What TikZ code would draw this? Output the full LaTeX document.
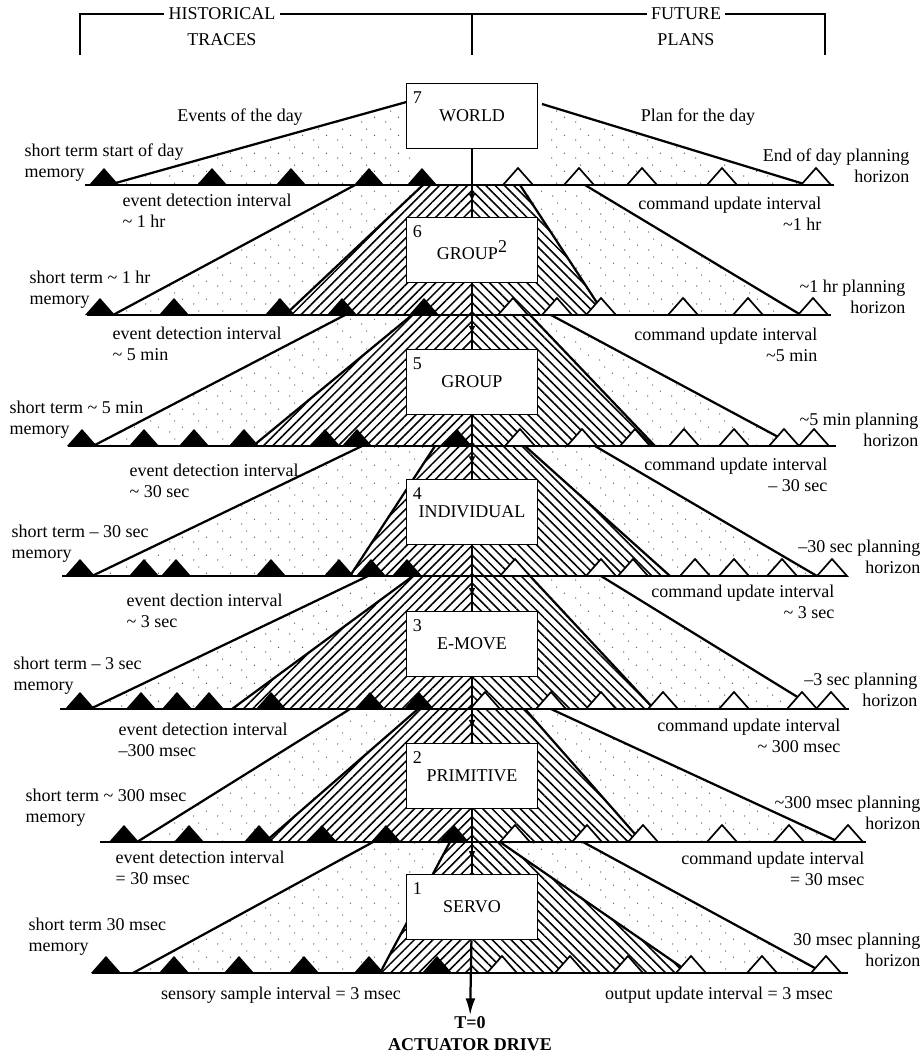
\documentclass[tikz,border=0pt]{standalone}
\usepackage{fontspec}
\setmainfont{Liberation Serif}
\usepackage{tikz}
\usetikzlibrary{positioning, arrows.meta, patterns, patterns.meta, decorations.markings}

% sparse dots for the planning fans
\pgfdeclarepatternformonly{speckle}{\pgfqpoint{0pt}{0pt}}{\pgfqpoint{17pt}{13pt}}{\pgfqpoint{17pt}{13pt}}{%
  \pgfpathcircle{\pgfqpoint{2pt}{1.5pt}}{0.45pt}%
  \pgfpathcircle{\pgfqpoint{11pt}{5pt}}{0.45pt}%
  \pgfpathcircle{\pgfqpoint{5.5pt}{9.5pt}}{0.45pt}%
  \pgfusepath{fill}}
\newcommand{\apx}{\textasciitilde}

\begin{document}
\begin{tikzpicture}[x=0.025cm, y=-0.025cm,
    every node/.style={font=\fontsize{12.8}{15}\selectfont, inner sep=1pt},
    tier/.style={draw, fill=white, line width=1.3pt, minimum width=3.275cm, minimum height=1.625cm, inner sep=0pt},
    heavy/.style={line width=1.6pt},
    baseln/.style={line width=2pt},
    speckled/.style={pattern=speckle, pattern color=black!80},
    hatchleft/.style={pattern={Lines[angle=45, distance=4.7pt, line width=1.1pt]}},
    hatchright/.style={pattern={Lines[angle=-45, distance=4.7pt, line width=1.1pt]}},
    midarrow/.style={decoration={markings, mark=at position 0.78 with {\arrow{Latex[length=6pt,width=5pt]}}}, postaction=decorate},
    past/.style={fill=black},
    plan/.style={fill=white, draw=black, line width=1.2pt},
  ]
    \useasboundingbox (0,0) rectangle (924,1055);

    % Header bracket
    \draw[heavy] (80,55) -- (80,14) -- (825,14) -- (825,55);
    \draw[heavy] (472,14) -- (472,55);
    \node[fill=white, inner xsep=3pt] (hist) at (222,14) {HISTORICAL};
    \node (traces) at (222,40) {TRACES};
    \node[fill=white, inner xsep=3pt] (future) at (686,14) {FUTURE};
    \node (plans) at (686,40) {PLANS};

    % Top fan under WORLD
    \fill[speckled] (410,101) -- (410,185) -- (112,185) -- cycle;
    \fill[speckled] (542,104) -- (542,185) -- (804,185) -- cycle;
    \draw[heavy] (410,101) -- (112,184);
    \draw[heavy] (542,104) -- (804,184);

    % Fans between levels
    \foreach \yt/\yb/\olt/\olb/\ort/\orb/\ilt/\ilb/\irt/\irb in {
        185/315/355/113/585/801/423/285/520/605,
        315/446/345/93/551/795/412/253/530/655,
        446/576/362/92/595/817/435/350/525/670,
        576/709/368/90/601/817/413/232/530/654,
        709/842/350/137/551/839/418/265/525/642,
        842/973/373/133/583/824/450/380/500/690}{
      \fill[speckled] (\olt,\yt) -- (\ilt,\yt) -- (\ilb,\yb) -- (\olb,\yb) -- cycle;
      \fill[speckled] (\irt,\yt) -- (\ort,\yt) -- (\orb,\yb) -- (\irb,\yb) -- cycle;
      \fill[hatchleft] (\ilt,\yt) -- (472,\yt) -- (472,\yb) -- (\ilb,\yb) -- cycle;
      \fill[hatchright] (472,\yt) -- (\irt,\yt) -- (\irb,\yb) -- (472,\yb) -- cycle;
      \draw[heavy] (\olt,\yt) -- (\olb,\yb) (\ort,\yt) -- (\orb,\yb)
                   (\ilt,\yt) -- (\ilb,\yb) (\irt,\yt) -- (\irb,\yb);
    }

    % Time lines with traces and plans
    \foreach \y/\a/\b in {185/85/834, 315/87/831, 446/68/836, 576/62/846, 709/60/849, 842/100/866, 973/92/848}
      \draw[baseln] (\a,\y) -- (\b,\y);
    \foreach \y/\pts/\pls in {
        185/{104,212,291,369,422}/{518,579,642,722,816},
        315/{100,174,280,342,424}/{513,557,601,683,748,813},
        446/{82,144,194,244,325,357,457}/{520,582,635,684,734,784,814},
        576/{80,144,176,271,339,371,407}/{515,601,633,695,734,782,832},
        709/{80,141,177,209,271,370,419}/{485,551,601,663,734,802,831},
        842/{124,189,259,322,386,454}/{515,587,643,722,789,848},
        973/{106,174,239,304,369,437}/{502,570,628,691,762,826}}{
      \foreach \x in \pts
        \fill[past] (\x-15,\y) -- (\x,\y-17) -- (\x+15,\y) -- cycle;
      \foreach \x in \pls
        \filldraw[plan] (\x-15,\y) -- (\x,\y-17) -- (\x+15,\y) -- cycle;
    }

    % Define nodes
    \node[tier] (world) at (472,116) {WORLD};
    \node[tier] (groupII) at (472,250) {GROUP\raisebox{0.9ex}{2}};
    \node[tier] (group) at (472,382) {GROUP};
    \node[tier] (individual) at (472,512) {INDIVIDUAL};
    \node[tier] (emove) at (472,644) {E-MOVE};
    \node[tier] (primitive) at (472,776) {PRIMITIVE};
    \node[tier] (servo) at (472,907) {SERVO};
    \foreach \n/\lab in {world/7, groupII/6, group/5, individual/4, emove/3, primitive/2, servo/1}
      \node[anchor=north west] (num\lab) at ([xshift=4pt,yshift=-5pt]\n.north west) {\lab};

    \node (tzero) at (470,1023) {\bfseries T=0};
    \node (actuator) at (470,1045) {\bfseries ACTUATOR DRIVE};

    % Draw arrows
    \foreach \a/\b in {world/groupII, groupII/group, group/individual, individual/emove, emove/primitive, primitive/servo}
      \draw[heavy, midarrow] (\a) -- (\b);
    \draw[heavy, -{Latex[length=12pt,width=7pt]}] (servo) -- (tzero);

    % Labels, level 7
    \node (events) at (240,117) {Events of the day};
    \node (planday) at (698,117) {Plan for the day};
    \node[anchor=west, align=left] (mem7) at (23,163) {short term start of day\\memory};
    \node[anchor=east, align=right] (hor7) at (911,166) {End of day planning\\horizon};
    % level 6
    \node[anchor=west, align=left] (ev6) at (121,211) {event detection interval\\\apx{} 1 hr};
    \node[anchor=east, align=right] (cu6) at (823,214) {command update interval\\\apx1 hr};
    \node[anchor=west, align=left] (mem6) at (28,290) {short term \apx{} 1 hr\\memory};
    \node[anchor=east, align=right] (hor6) at (907,297) {\apx1 hr planning\\horizon};
    % level 5
    \node[anchor=west, align=left] (ev5) at (111,344) {event detection interval\\\apx{} 5 min};
    \node[anchor=east, align=right] (cu5) at (819,345) {command update interval\\\apx5 min};
    \node[anchor=west, align=left] (mem5) at (8,420) {short term \apx{} 5 min\\memory};
    \node[anchor=east, align=right] (hor5) at (920,430) {\apx5 min planning\\horizon};
    % level 4
    \node[anchor=west, align=left] (ev4) at (128,481) {event detection interval\\\apx{} 30 sec};
    \node[anchor=east, align=right] (cu4) at (829,475) {command update interval\\-- 30 sec};
    \node[anchor=west, align=left] (mem4) at (10,544) {short term -- 30 sec\\memory};
    \node[anchor=east, align=right] (hor4) at (922,557) {--30 sec planning\\horizon};
    % level 3
    \node[anchor=west, align=left] (ev3) at (125,611) {event dection interval\\\apx{} 3 sec};
    \node[anchor=east, align=right] (cu3) at (836,602) {command update interval\\\apx{} 3 sec};
    \node[anchor=west, align=left] (mem3) at (12,676) {short term -- 3 sec\\memory};
    \node[anchor=east, align=right] (hor3) at (919,690) {--3 sec planning\\horizon};
    % level 2
    \node[anchor=west, align=left] (ev2) at (117,740) {event detection interval\\--300 msec};
    \node[anchor=east, align=right] (cu2) at (842,736) {command update interval\\\apx{} 300 msec};
    \node[anchor=west, align=left] (mem2) at (24,808) {short term \apx{} 300 msec\\memory};
    \node[anchor=east, align=right] (hor2) at (922,813) {\apx300 msec planning\\horizon};
    % level 1
    \node[anchor=west, align=left] (ev1) at (114,868) {event detection interval\\= 30 msec};
    \node[anchor=east, align=right] (cu1) at (866,869) {command update interval\\= 30 msec};
    \node[anchor=west, align=left] (mem1) at (27,937) {short term 30 msec\\memory};
    \node[anchor=east, align=right] (hor1) at (922,950) {30 msec planning\\horizon};
    % bottom
    \node (sensory) at (281,995) {sensory sample interval = 3 msec};
    \node (output) at (719,995) {output update interval = 3 msec};
\end{tikzpicture}
\end{document}
